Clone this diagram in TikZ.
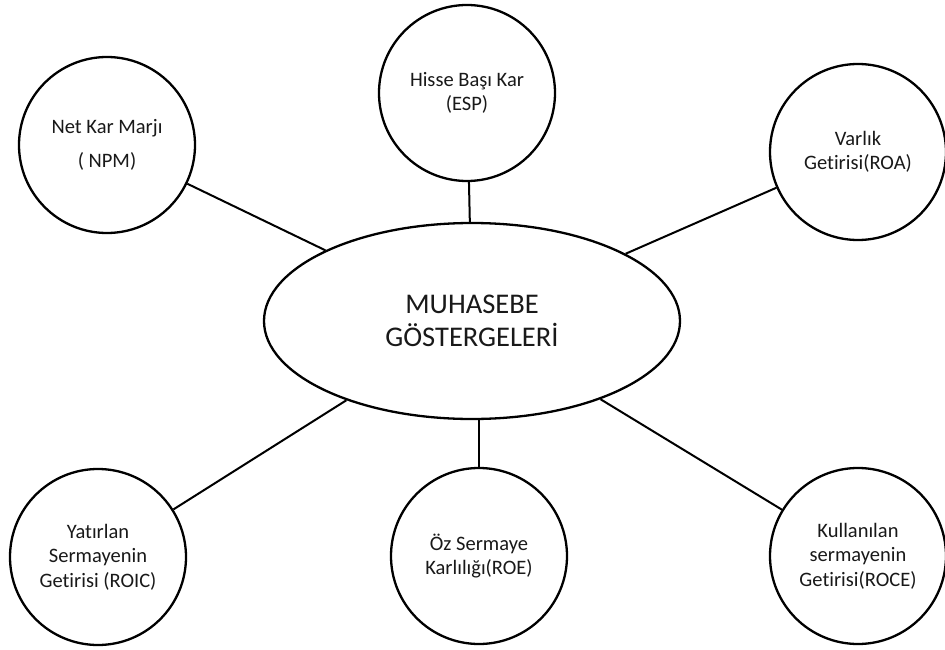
\documentclass[tikz,border=0pt]{standalone}
\usepackage{fontspec}
\setmainfont[Ligatures=NoCommon]{Carlito}
\usetikzlibrary{shapes.geometric}
\begin{document}
\begin{tikzpicture}[x=1pt,y=-1pt,
  ratio/.style={circle,draw,line width=2.3pt,fill=white,minimum size=176pt,inner sep=0pt,
    align=center,font=\fontsize{20.5}{24.6}\selectfont,text=black!90},
  hub/.style={ellipse,draw,line width=2.3pt,fill=white,minimum width=416pt,minimum height=196pt,
    inner sep=0pt,align=center,font=\fontsize{28.5}{33}\selectfont,text=black!90},
  link/.style={line width=2pt}]
\useasboundingbox (0,0) rectangle (945,650);

% central indicator group
\node[hub] (core) at (472,321) {MUHASEBE\\GÖSTERGELERİ};

% surrounding ratios
\node[ratio] (npm)  at (107,145) {Net Kar Marjı\\[9pt]( NPM)};
\node[ratio] (esp)  at (467,93)  {Hisse Başı Kar\\(ESP)};
\node[ratio] (roa)  at (858,152) {Varlık\\Getirisi(ROA)};
\node[ratio] (roic) at (98,557)  {Yatırlan\\Sermayenin\\Getirisi (ROIC)};
\node[ratio] (roe)  at (479,556) {Öz Sermaye\\Karlılığı(ROE)};
\node[ratio] (roce) at (858,556) {Kullanılan\\sermayenin\\Getirisi(ROCE)};

% connectors
\draw[link] (npm)  -- (core);
\draw[link] (esp)  -- (core);
\draw[link] (roa)  -- (core);
\draw[link] (roic) -- (core);
\draw[link] (roe.north) -- (roe.north |- core.south);
\draw[link] (roce) -- (core);
\end{tikzpicture}
\end{document}
